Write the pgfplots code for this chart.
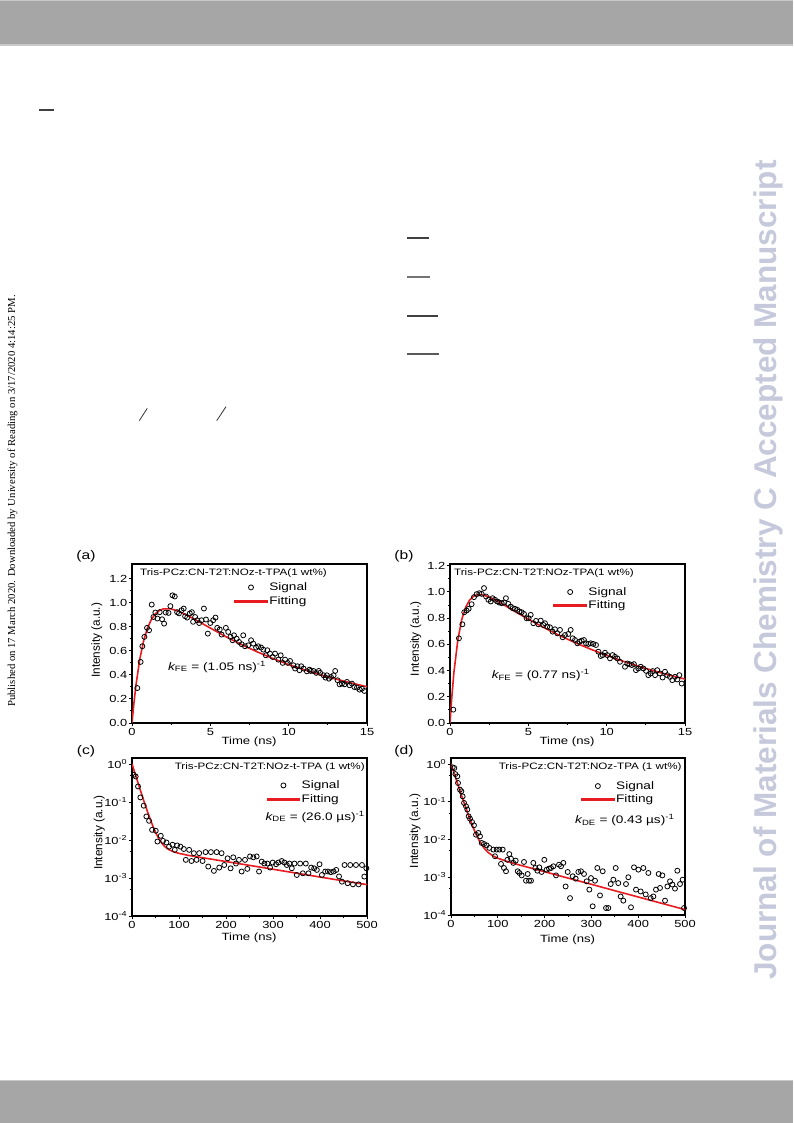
\documentclass[border=0pt]{standalone}
\usepackage{fontspec}
\setmainfont{Liberation Sans}
\newfontfamily\ff[FakeStretch=1.25]{Liberation Sans}
\newfontfamily\serifpub{Liberation Serif}
\usepackage{pgfplots}
\pgfplotsset{compat=1.18}
\definecolor{fitred}{RGB}{232,28,32}
\definecolor{bargrey}{RGB}{166,166,166}
\definecolor{barline}{RGB}{200,200,200}
\definecolor{wm}{RGB}{197,201,219}
\newcommand{\tickf}{\ff\fontsize{10.3}{12}\selectfont}
\newcommand{\legf}{\ff\fontsize{10.9}{12.5}\selectfont}
\newcommand{\titf}{\ff\fontsize{9.3}{11}\selectfont}
\pgfplotsset{
  panel/.style={
    scale only axis, width=235pt, height=159pt,
    axis line style={line width=1.1pt},
    every tick/.style={black, line width=0.9pt},
    tick align=outside, xtick pos=bottom, ytick pos=left,
    major tick length=3.3pt, minor tick length=2pt,
    ticklabel style={font=\tickf},
    xticklabel style={yshift=1.5pt},
    yticklabel style={xshift=2pt},
    xlabel={Time (ns)}, ylabel={Intensity (a.u.)},
    xlabel style={font=\ff\fontsize{10.5}{12}\selectfont, anchor=center},
    ylabel style={font=\fontsize{11.8}{13}\selectfont, anchor=center},
    legend cell align=left,
    legend style={draw=none, fill=none, font=\legf, text=black, anchor=north west, inner sep=0pt, row sep=1.2pt, nodes={inner sep=1.5pt}},
  },
  sig/.style={only marks, mark=o, mark size=2.5pt, mark options={line width=0.8pt, black},
    legend image code/.code={\draw[black, line width=0.8pt] plot[mark=o, mark size=2.5pt] coordinates {(16pt,0pt)};}},
  fit/.style={fitred, line width=1.6pt, no marks,
    legend image code/.code={\fill[fitred] (0pt,-0.7pt) rectangle (32pt,0.7pt);}},
  linpanel/.style={xmin=0, xmax=15, ymin=0, xtick={0,5,10,15}, xticklabels={0,5,10,15},
    minor x tick num=1, ytick={0,0.2,0.4,0.6,0.8,1.0,1.2},
    yticklabels={0.0,0.2,0.4,0.6,0.8,1.0,1.2}, minor y tick num=1},
  logpanel/.style={xmin=0, xmax=500, ymin=1e-4, ymax=1.44,
    xtick={0,100,200,300,400,500}, xticklabels={0,100,200,300,400,500}, minor x tick num=1,
    ytick={1e-4,1e-3,1e-2,1e-1,1},
    yticklabels={10\textsuperscript{-4},10\textsuperscript{-3},10\textsuperscript{-2},10\textsuperscript{-1},10\textsuperscript{0}},
    minor ytick={5e-4,5e-3,5e-2,5e-1}},
}
\begin{document}
\begin{tikzpicture}
\path[use as bounding box, fill=white] (0pt,0pt) rectangle (793pt,1123pt);
% page furniture
\fill[bargrey] (0pt,1078.5pt) rectangle (793pt,1123pt);
\fill[barline] (0pt,1077.3pt) rectangle (793pt,1078.5pt);
\fill[barline] (0pt,1122pt) rectangle (793pt,1123pt);
\fill[bargrey] (0pt,0pt) rectangle (793pt,42pt);
\fill[barline] (0pt,42pt) rectangle (793pt,43pt);
\draw[line width=1.6pt, black!75] (39pt,1013pt) -- (54pt,1013pt);
\draw[line width=1.4pt, black!75] (407pt,885pt) -- (429pt,885pt);
\draw[line width=1.4pt, black!55] (407pt,846pt) -- (430pt,846pt);
\draw[line width=1.4pt, black!75] (407pt,807pt) -- (438pt,807pt);
\draw[line width=1.4pt, black!65] (407pt,769pt) -- (439pt,769pt);
\draw[line width=0.8pt, black!80] (139.3pt,702.3pt) -- (147.3pt,714.7pt);
\draw[line width=0.8pt, black!80] (216.7pt,702.3pt) -- (226pt,716.3pt);
\node[rotate=90, font=\serifpub\fontsize{10.7}{12}\selectfont, inner sep=0pt] at (12.5pt,622pt) {Published on 17 March 2020. Downloaded by University of Reading on 3/17/2020 4:14:25 PM.};
\node[rotate=90, font=\bfseries\fontsize{31.5}{34}\selectfont, text=wm, inner sep=0pt] at (768pt,553pt) {Journal of Materials Chemistry C Accepted Manuscript};
% panel labels
\node[font=\ff\fontsize{12.5}{14}\selectfont, inner sep=0pt] at (86pt,567pt) {(a)};
\node[font=\ff\fontsize{12.5}{14}\selectfont, inner sep=0pt] at (404pt,567pt) {(b)};
\node[font=\ff\fontsize{12.5}{14}\selectfont, inner sep=0pt] at (86pt,372pt) {(c)};
\node[font=\ff\fontsize{12.5}{14}\selectfont, inner sep=0pt] at (404pt,372pt) {(d)};

% ---------------- (a)
\begin{scope}[color=black]
\begin{axis}[panel, linpanel, at={(132pt,559pt)}, anchor=north west, ymax=1.32,
  xlabel style={at={(axis description cs:0.498,-0.12)}},
  ylabel style={at={(axis description cs:-0.150,0.52)}},
  legend style={at={(axis description cs:0.434,0.893)}}]
\addplot[sig] coordinates {(0.34,0.29)(0.55,0.507)(0.66,0.637)(0.79,0.715)(0.96,0.79)(1.09,0.77)(1.26,0.983)(1.37,0.88)(1.49,0.917)(1.62,0.867)(1.77,0.92)(1.92,0.861)(2.05,0.825)(2.15,0.917)(2.33,0.914)(2.45,0.97)(2.58,1.06)(2.73,1.05)(2.88,0.92)(3.0,0.91)(3.16,0.936)(3.3,0.95)(3.39,0.886)(3.52,0.875)(3.69,0.91)(3.82,0.92)(3.9,0.84)(4.03,0.88)(4.16,0.853)(4.29,0.83)(4.44,0.853)(4.59,0.95)(4.72,0.859)(4.84,0.742)(5.0,0.83)(5.18,0.853)(5.33,0.875)(5.44,0.79)(5.6,0.776)(5.72,0.734)(5.99,0.79)(6.14,0.756)(6.29,0.715)(6.42,0.687)(6.51,0.728)(6.68,0.70)(6.83,0.673)(7.0,0.654)(7.1,0.728)(7.21,0.637)(7.42,0.645)(7.6,0.687)(7.74,0.659)(7.92,0.626)(8.06,0.637)(8.24,0.626)(8.38,0.609)(8.54,0.562)(8.64,0.604)(8.81,0.576)(8.98,0.548)(9.13,0.576)(9.34,0.526)(9.49,0.562)(9.62,0.499)(9.77,0.526)(9.94,0.499)(10.09,0.515)(10.3,0.479)(10.41,0.452)(10.56,0.471)(10.69,0.438)(10.8,0.471)(10.95,0.452)(11.16,0.429)(11.33,0.443)(11.41,0.432)(11.58,0.432)(11.76,0.416)(11.92,0.432)(12.01,0.416)(12.23,0.396)(12.35,0.377)(12.44,0.396)(12.57,0.368)(12.7,0.382)(12.87,0.396)(12.97,0.432)(13.12,0.355)(13.25,0.321)(13.4,0.327)(13.57,0.321)(13.72,0.341)(13.89,0.313)(14.04,0.327)(14.19,0.299)(14.36,0.294)(14.53,0.277)(14.68,0.285)(14.83,0.266)};
\addlegendentry{Signal}
\addplot[fit] coordinates {(0,0)(0.1,0.137)(0.25,0.312)(0.5,0.532)(0.75,0.686)(1,0.792)(1.25,0.863)(1.5,0.908)(1.75,0.934)(2,0.947)(2.5,0.947)(3,0.926)(3.5,0.895)(4,0.861)(5,0.788)(6,0.716)(7,0.650)(8,0.590)(9,0.535)(10,0.485)(11,0.441)(12,0.401)(13,0.365)(14,0.332)(15,0.301)};
\addlegendentry{Fitting}
\node[font=\titf, anchor=west, inner sep=0pt] at (axis description cs:0.034,0.94) {Tris-PCz:CN-T2T:NOz-t-TPA(1 wt\%)};
\node[font=\legf, anchor=west, inner sep=0pt] at (axis description cs:0.153,0.354) {{\itshape k}\textsubscript{FE} = (1.05 ns)\textsuperscript{-1}};
\end{axis}
\end{scope}

% ---------------- (b)
\begin{scope}[color=black]
\begin{axis}[panel, linpanel, at={(450pt,559pt)}, anchor=north west, ymax=1.213,
  xlabel style={at={(axis description cs:0.498,-0.12)}},
  ylabel style={at={(axis description cs:-0.145,0.53)}},
  legend style={at={(axis description cs:0.439,0.864)}}]
\addplot[sig] coordinates {(0.21,0.102)(0.57,0.646)(0.79,0.753)(0.91,0.845)(1.06,0.858)(1.19,0.871)(1.38,0.906)(1.53,0.96)(1.70,0.983)(1.87,0.99)(2.02,0.985)(2.17,1.029)(2.30,0.965)(2.45,0.94)(2.60,0.927)(2.72,0.952)(2.87,0.94)(3.02,0.927)(3.15,0.919)(3.30,0.914)(3.45,0.919)(3.57,0.952)(3.72,0.909)(3.87,0.888)(4.0,0.876)(4.15,0.871)(4.30,0.863)(4.43,0.85)(4.57,0.845)(4.72,0.832)(4.89,0.799)(5.02,0.799)(5.15,0.825)(5.32,0.761)(5.49,0.779)(5.64,0.753)(5.79,0.781)(5.96,0.748)(6.06,0.761)(6.21,0.735)(6.38,0.73)(6.55,0.697)(6.70,0.715)(6.85,0.684)(7.02,0.71)(7.19,0.654)(7.34,0.671)(7.55,0.679)(7.70,0.71)(7.83,0.646)(7.98,0.633)(8.13,0.608)(8.26,0.62)(8.40,0.628)(8.55,0.633)(8.68,0.608)(8.83,0.603)(8.98,0.608)(9.15,0.603)(9.32,0.595)(9.47,0.544)(9.62,0.511)(9.74,0.518)(9.89,0.536)(10.04,0.518)(10.21,0.493)(10.38,0.518)(10.53,0.505)(10.68,0.493)(10.85,0.467)(11.17,0.429)(11.32,0.454)(11.45,0.449)(11.60,0.442)(11.74,0.449)(11.87,0.403)(12.02,0.416)(12.17,0.429)(12.34,0.416)(12.51,0.398)(12.66,0.365)(12.81,0.378)(12.94,0.396)(13.09,0.365)(13.23,0.403)(13.40,0.378)(13.57,0.347)(13.72,0.391)(13.87,0.365)(14.04,0.352)(14.19,0.327)(14.36,0.352)(14.51,0.332)(14.64,0.365)(14.79,0.301)};
\addlegendentry{Signal}
\addplot[fit] coordinates {(0,0)(0.1,0.175)(0.25,0.387)(0.5,0.634)(0.75,0.789)(1,0.883)(1.25,0.938)(1.5,0.967)(1.75,0.979)(2,0.979)(2.5,0.962)(3,0.931)(3.5,0.897)(4,0.861)(5,0.792)(6,0.727)(7,0.667)(8,0.612)(9,0.562)(10,0.516)(11,0.473)(12,0.434)(13,0.398)(14,0.365)(15,0.335)};
\addlegendentry{Fitting}
\node[font=\titf, anchor=west, inner sep=0pt] at (axis description cs:0.017,0.941) {Tris-PCz:CN-T2T:NOz-TPA(1 wt\%)};
\node[font=\legf, anchor=west, inner sep=0pt] at (axis description cs:0.177,0.302) {{\itshape k}\textsubscript{FE} = (0.77 ns)\textsuperscript{-1}};
\end{axis}
\end{scope}

% ---------------- (c)
\begin{scope}[color=black]
\begin{axis}[panel, ymode=log, logpanel, at={(132pt,365pt)}, anchor=north west, height=158pt,
  xlabel style={at={(axis description cs:0.498,-0.141)}},
  ylabel style={at={(axis description cs:-0.139,0.528)}},
  legend style={at={(axis description cs:0.572,0.867)}}]
\addplot[sig] coordinates {(3.6,0.52)(7.8,0.47)(12.8,0.257)(17.8,0.132)(24.9,0.080)(30.6,0.0417)(36.3,0.032)(42.7,0.0185)(50.5,0.0175)(54.1,0.0091)(61.2,0.0129)(66.1,0.0095)(73.3,0.0086)(78.9,0.0067)(86.1,0.0075)(91.0,0.0055)(96.0,0.0072)(103.1,0.0067)(110.2,0.0058)(114.5,0.0030)(121.6,0.0055)(126.6,0.0028)(131.6,0.0045)(137.3,0.0030)(143.0,0.0045)(150.1,0.0028)(156.5,0.0048)(162.2,0.0020)(167.9,0.0048)(174.3,0.00154)(180.0,0.0048)(185.6,0.00188)(190.6,0.0045)(196.3,0.0022)(203.4,0.0033)(209.8,0.0018)(215.5,0.0035)(221.2,0.0024)(227.6,0.0030)(233.3,0.00148)(240.4,0.0030)(245.4,0.00174)(251.1,0.0037)(258.2,0.0035)(265.3,0.0037)(270.3,0.00148)(276.0,0.0027)(281.7,0.0024)(288.1,0.0024)(293.8,0.00188)(299.4,0.00255)(306.5,0.0023)(311.5,0.00255)(318.6,0.0028)(324.3,0.00255)(329.3,0.0022)(335.0,0.0024)(340.0,0.0018)(345.7,0.0024)(350.6,0.0012)(357.8,0.0024)(363.5,0.00133)(369.8,0.0024)(375.5,0.00133)(381.2,0.00188)(387.6,0.0018)(393.3,0.00163)(399.0,0.0023)(404.0,0.0012)(411.1,0.00148)(416.8,0.00148)(423.2,0.00142)(428.9,0.00148)(434.6,0.00163)(440.5,0.0011)(446.7,0.0008)(452.3,0.0022)(458.8,0.00073)(464.4,0.0022)(470.1,0.00068)(476.5,0.0022)(482.2,0.00068)(489.3,0.0022)(494.3,0.00109)(498.6,0.0018)};
\addlegendentry{Signal}
\addplot[fit] coordinates {(0,1.0069)(5,0.6415)(10,0.4095)(15,0.2622)(20,0.1686)(25,0.1091)(30,0.0714)(35,0.0474)(40,0.0321)(45,0.0223)(50,0.0161)(55,0.0121)(60,0.00949)(65,0.00781)(70,0.00671)(75,0.00596)(80,0.00545)(90,0.00482)(100,0.00445)(120,0.00394)(150,0.00342)(200,0.00271)(250,0.00215)(300,0.00170)(350,0.00134)(400,0.00106)(450,0.00084)(500,0.00067)};
\addlegendentry{Fitting}
\node[font=\titf, anchor=east, inner sep=0pt] at (axis description cs:0.991,0.941) {Tris-PCz:CN-T2T:NOz-t-TPA (1 wt\%)};
\node[font=\legf, anchor=east, inner sep=0pt] at (axis description cs:0.991,0.628) {{\itshape k}\textsubscript{DE} = (26.0 µs)\textsuperscript{-1}};
\end{axis}
\end{scope}

% ---------------- (d)
\begin{scope}[color=black]
\begin{axis}[panel, ymode=log, logpanel, at={(451pt,365pt)}, anchor=north west, width=234pt, height=157pt,
  xlabel style={at={(axis description cs:0.498,-0.159)}},
  ylabel style={at={(axis description cs:-0.154,0.536)}},
  legend style={at={(axis description cs:0.555,0.862)}}]
\addplot[sig] coordinates {(3.6,0.816)(7.1,0.78)(9.3,0.54)(13.5,0.47)(15.0,0.314)(19.2,0.209)(22.1,0.189)(24.9,0.139)(27.8,0.093)(32.0,0.076)(34.9,0.062)(37.7,0.041)(40.6,0.0356)(44.9,0.029)(49.1,0.0237)(53.4,0.0134)(58.4,0.0149)(62.0,0.0121)(65.5,0.0081)(70.5,0.0076)(76.2,0.0070)(81.9,0.0060)(90.5,0.0054)(94.0,0.0036)(97.6,0.0054)(103.3,0.0054)(106.8,0.00225)(110.4,0.0054)(113.2,0.00176)(117.5,0.00144)(120.4,0.0029)(124.6,0.0041)(128.2,0.0031)(133.2,0.0024)(138.2,0.00275)(142.5,0.00144)(146.0,0.0013)(151.0,0.00112)(155.9,0.00254)(160.3,0.00081)(163.8,0.00122)(166.7,0.00081)(170.9,0.00081)(175.9,0.0024)(180.2,0.00176)(184.5,0.00149)(188.7,0.00183)(193.7,0.00138)(199.4,0.0029)(204.4,0.00159)(209.4,0.00169)(213.7,0.00176)(218.7,0.00195)(224.4,0.00112)(230.8,0.00215)(235.0,0.00195)(240.0,0.0024)(244.9,0.00057)(249.3,0.00138)(254.3,0.00028)(260.0,0.00106)(266.4,0.00092)(272.1,0.00138)(277.8,0.00144)(284.2,0.00122)(289.9,0.00078)(295.6,0.00047)(299.1,0.00095)(302.7,0.00017)(307.7,0.00081)(312.7,0.00176)(318.4,0.00033)(324.1,0.00144)(331.2,0.000153)(336.2,0.000153)(341.2,0.00066)(346.9,0.00086)(351.9,0.00176)(357.5,0.0007)(362.5,0.00031)(368.2,0.00024)(373.9,0.00066)(378.9,0.001)(384.6,0.00016)(391.0,0.00183)(395.3,0.00047)(400.3,0.00159)(405.3,0.00042)(411.0,0.00176)(416.0,0.00035)(421.7,0.0013)(426.7,0.00028)(432.4,0.00031)(438.0,0.00047)(443.7,0.00122)(446.6,0.00052)(451.6,0.00112)(457.3,0.00024)(462.3,0.00057)(468.0,0.00078)(473.0,0.00064)(478.6,0.0005)(483.6,0.00149)(489.3,0.00066)(495.0,0.00086)(497.9,0.000153)};
\addlegendentry{Signal}
\addplot[fit] coordinates {(0,1.0065)(5,0.6536)(10,0.4251)(15,0.2771)(20,0.1812)(25,0.1191)(30,0.0788)(35,0.0526)(40,0.0356)(45,0.0246)(50,0.01736)(55,0.01264)(60,0.00953)(65,0.00746)(70,0.00607)(75,0.00513)(80,0.00447)(90,0.00366)(100,0.00319)(120,0.00261)(150,0.00205)(200,0.0014)(250,0.00095)(300,0.00065)(350,0.00044)(400,0.0003)(450,0.000204)(500,0.000139)};
\addlegendentry{Fitting}
\node[font=\titf, anchor=east, inner sep=0pt] at (axis description cs:0.986,0.941) {Tris-PCz:CN-T2T:NOz-TPA (1 wt\%)};
\node[font=\legf, anchor=west, inner sep=0pt] at (axis description cs:0.53,0.605) {{\itshape k}\textsubscript{DE} = (0.43 µs)\textsuperscript{-1}};
\end{axis}
\end{scope}
\end{tikzpicture}
\end{document}
